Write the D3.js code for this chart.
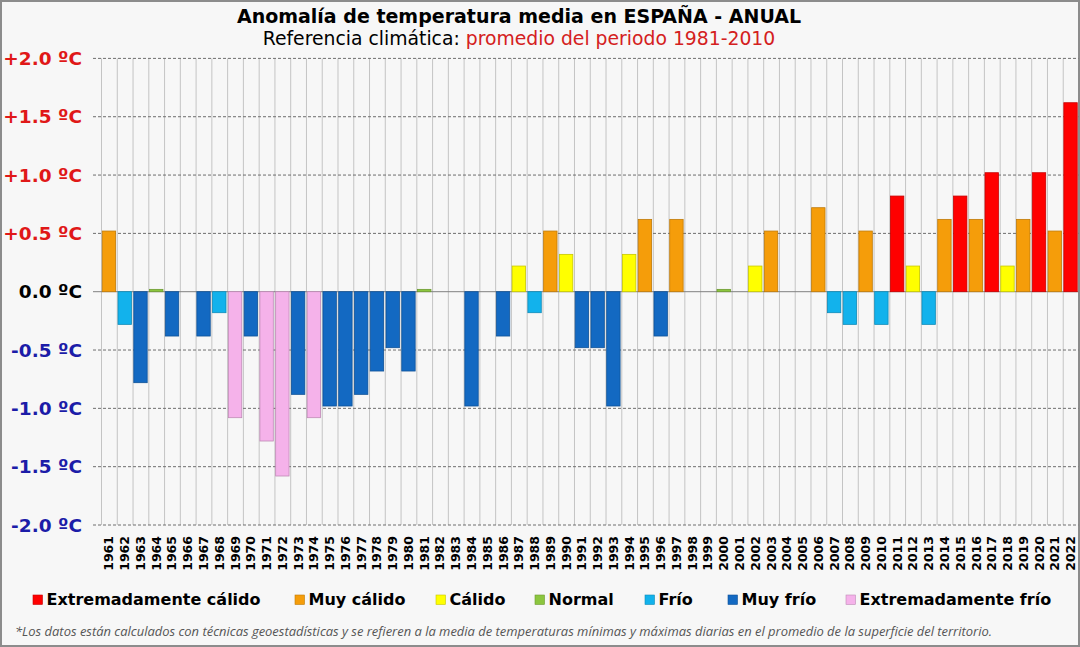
<!DOCTYPE html>
<html>
<head>
<meta charset="utf-8">
<script src="https://cdn.jsdelivr.net/npm/d3@7"></script>
<style>
  body { margin: 0; background: #fff; }
  svg { display: block; }
</style>
</head>
<body>
<script>
// anomalia anual (ºC) respecto a 1981-2010
var years = d3.range(1961, 2023);
var anomaly = [
  0.52, -0.28, -0.78, 0.02, -0.38, null, -0.38, -0.18, -1.08, -0.38,
  -1.28, -1.58, -0.88, -1.08, -0.98, -0.98, -0.88, -0.68, -0.48, -0.68,
  0.02, null, null, -0.98, null, -0.38, 0.22, -0.18, 0.52, 0.32,
  -0.48, -0.48, -0.98, 0.32, 0.62, -0.38, 0.62, null, null, 0.02,
  null, 0.22, 0.52, null, null, 0.72, -0.18, -0.28, 0.52, -0.28,
  0.82, 0.22, -0.28, 0.62, 0.82, 0.62, 1.02, 0.22, 0.62, 1.02,
  0.52, 1.62
];
// caracter de cada año
var category = [
  "MC", "F", "MF", "N", "MF", "N", "MF", "F", "EF", "MF",
  "EF", "EF", "MF", "EF", "MF", "MF", "MF", "MF", "MF", "MF",
  "N", "N", "N", "MF", "N", "MF", "C", "F", "MC", "C",
  "MF", "MF", "MF", "C", "MC", "MF", "MC", "N", "N", "N",
  "N", "C", "MC", "N", "N", "MC", "F", "F", "MC", "F",
  "EC", "C", "F", "MC", "EC", "MC", "EC", "C", "MC", "EC",
  "MC", "EC"
];
var catKeys = ["EC", "MC", "C", "N", "F", "MF", "EF"];
var catNames = ["Extremadamente cálido", "Muy cálido", "Cálido", "Normal", "Frío", "Muy frío", "Extremadamente frío"];
var catColors = ["#ff0000", "#f59d0a", "#ffff00", "#8cc63f", "#12b2ec", "#1369c2", "#f5b2ea"];
var yTicks = [2.0, 1.5, 1.0, 0.5, 0.0, -0.5, -1.0, -1.5, -2.0];

var W = 1080, H = 647;
var plotL = 101, plotR = 1078.5, plotT = 58.4, plotB = 525;

var svg = d3.select("body").append("svg")
    .attr("width", W)
    .attr("height", H);

svg.append("rect")
    .attr("x", 1).attr("y", 1)
    .attr("width", W - 2).attr("height", H - 2)
    .attr("fill", "#f7f7f7")
    .attr("stroke", "#8c8c8c")
    .attr("stroke-width", 2);

var x = d3.scaleBand().domain(years).range([plotL, plotR]).paddingInner(0.15).paddingOuter(0.08);
var xCol = d3.scaleBand().domain(years).range([plotL, plotR]);
var y = d3.scaleLinear().domain([-2, 2]).range([plotB, plotT]);
var color = d3.scaleOrdinal().domain(catKeys).range(catColors);

// vertical grid lines
svg.append("g").selectAll("line")
    .data(years)
    .enter().append("line")
    .attr("x1", function(d) { return xCol(d) + 0.5; })
    .attr("x2", function(d) { return xCol(d) + 0.5; })
    .attr("y1", plotT)
    .attr("y2", plotB)
    .attr("stroke", "#c4c4c4")
    .attr("stroke-width", 1);

// horizontal grid lines
svg.append("g").selectAll("line")
    .data(yTicks)
    .enter().append("line")
    .attr("x1", plotL - 8)
    .attr("x2", plotR)
    .attr("y1", function(d) { return y(d); })
    .attr("y2", function(d) { return y(d); })
    .attr("stroke", function(d) { return d === 0 ? "#808080" : "#6e6e6e"; })
    .attr("stroke-width", 1)
    .attr("stroke-dasharray", function(d) { return d === 0 ? null : "3,2"; });

// y labels
svg.append("g").selectAll("text")
    .data(yTicks)
    .enter().append("text")
    .attr("x", 82)
    .attr("y", function(d) { return y(d); })
    .attr("dy", "0.36em")
    .attr("text-anchor", "end")
    .attr("font-family", "DejaVu Sans")
    .attr("font-weight", "bold")
    .attr("font-size", "18.5px")
    .attr("fill", function(d) { return d > 0 ? "#e01818" : (d < 0 ? "#1c1ca8" : "#000"); })
    .text(function(d) { return (d > 0 ? "+" : "") + d.toFixed(1) + " ºC"; });

// bars
var bars = years.map(function(yr, i) { return {year: yr, v: anomaly[i], c: category[i]}; })
    .filter(function(d) { return d.v !== null; });

svg.append("g").selectAll("rect")
    .data(bars)
    .enter().append("rect")
    .attr("x", function(d) { return x(d.year); })
    .attr("width", x.bandwidth())
    .attr("y", function(d) { return y(Math.max(0, d.v)); })
    .attr("height", function(d) { return Math.abs(y(d.v) - y(0)); })
    .attr("fill", function(d) { return color(d.c); })
    .attr("stroke", function(d) { return d3.color(color(d.c)).darker(0.7); })
    .attr("stroke-width", 0.8);

// year labels
svg.append("g").selectAll("text")
    .data(years)
    .enter().append("text")
    .attr("transform", function(d) { return "translate(" + (xCol(d) + xCol.bandwidth() / 2) + ",536) rotate(-90)"; })
    .attr("dy", "0.36em")
    .attr("text-anchor", "end")
    .attr("font-family", "DejaVu Sans")
    .attr("font-weight", "bold")
    .attr("font-size", "12.5px")
    .attr("fill", "#000")
    .text(function(d) { return d; });

// title
svg.append("text")
    .attr("x", 519).attr("y", 23)
    .attr("text-anchor", "middle")
    .attr("font-family", "DejaVu Sans")
    .attr("font-weight", "bold")
    .attr("font-size", "19px")
    .text("Anomalía de temperatura media en ESPAÑA - ANUAL");

var sub = svg.append("text")
    .attr("x", 519).attr("y", 45)
    .attr("text-anchor", "middle")
    .attr("font-family", "DejaVu Sans")
    .attr("font-size", "18.8px");
sub.append("tspan").attr("fill", "#000").text("Referencia climática: ");
sub.append("tspan").attr("fill", "#d42020").text("promedio del periodo 1981-2010");

// legend
var legendX = [33, 295, 436, 535, 645, 728, 846];
var legend = svg.append("g").selectAll("g")
    .data(catKeys)
    .enter().append("g")
    .attr("transform", function(d, i) { return "translate(" + legendX[i] + ",594.5)"; });

legend.append("rect")
    .attr("y", 0.5)
    .attr("width", 9.5).attr("height", 9.5)
    .attr("fill", function(d) { return color(d); })
    .attr("stroke", function(d) { return d3.color(color(d)).darker(0.7); })
    .attr("stroke-width", 0.6);

legend.append("text")
    .attr("x", 13.5).attr("y", 10.8)
    .attr("font-family", "DejaVu Sans")
    .attr("font-weight", "bold")
    .attr("font-size", "16px")
    .attr("fill", "#000")
    .text(function(d, i) { return catNames[i]; });

// nota
svg.append("text")
    .attr("x", 15).attr("y", 636)
    .attr("font-family", "Open Sans")
    .attr("font-style", "italic")
    .attr("font-size", "12px")
    .attr("fill", "#555")
    .attr("textLength", 977)
    .attr("lengthAdjust", "spacingAndGlyphs")
    .text("*Los datos están calculados con técnicas geoestadísticas y se refieren a la media de temperaturas mínimas y máximas diarias en el promedio de la superficie del territorio.");
</script>
</body>
</html>
